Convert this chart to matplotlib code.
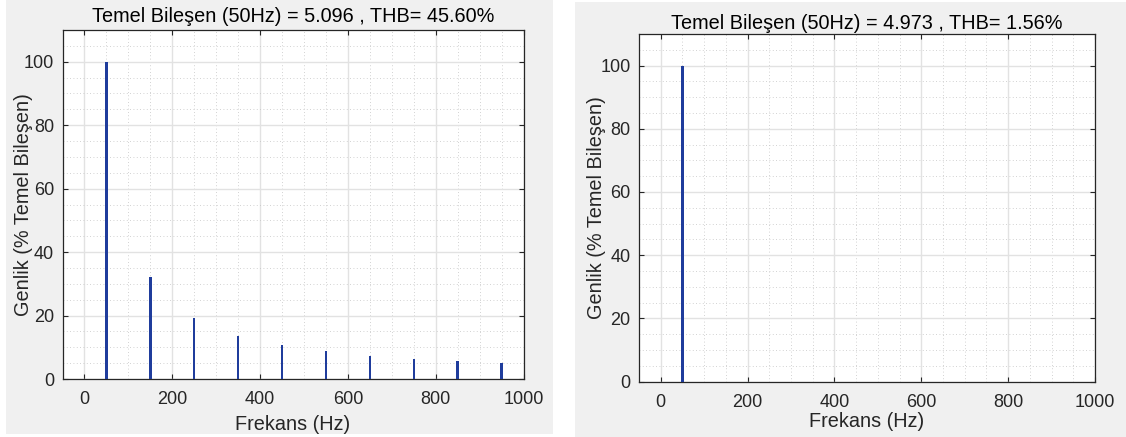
import matplotlib
matplotlib.use("Agg")
import matplotlib.pyplot as plt
from matplotlib.patches import Rectangle
from matplotlib.ticker import MultipleLocator

plt.rcParams['font.family'] = ['Liberation Sans', 'DejaVu Sans']

# Veriler (harmonik spektrumu, % temel bileşen)
freq_left = [50, 150, 250, 350, 450, 550, 650, 750, 850, 950]
amp_left = [100, 32.0, 19.3, 13.7, 10.6, 8.7, 7.4, 6.3, 5.6, 4.9]
freq_right = [50]
amp_right = [100]

title_left = 'Temel Bileşen (50Hz) = 5.096 , THB= 45.60%'
title_right = 'Temel Bileşen (50Hz) = 4.973 , THB= 1.56%'
xticks = [0, 200, 400, 600, 800, 1000]
yticks = [0, 20, 40, 60, 80, 100]

W, H = 1126, 437
fig = plt.figure(figsize=(W / 100, H / 100), dpi=100, facecolor='white')

# gri panel arka planları (eksenlerin arkasında)
fig.patches.append(Rectangle((6 / W, (H - 434) / H), 547 / W, 434 / H,
                             transform=fig.transFigure, facecolor='#f0f0f0',
                             edgecolor='none', zorder=-5))
fig.patches.append(Rectangle((575 / W, 0), 551 / W, (H - 2) / H,
                             transform=fig.transFigure, facecolor='#f0f0f0',
                             edgecolor='none', zorder=-5))

bar_color = '#1f3c9c'
txt_color = '#262626'


def draw_panel(rect, freqs, amps, title, bar_w, title_pad, ylab_x, xlab_y):
    ax = fig.add_axes(rect)
    ax.set_facecolor('white')
    ax.bar(freqs, amps, width=bar_w, color=bar_color, edgecolor='none', zorder=3)
    ax.set_xlim(-50, 1000)
    ax.set_ylim(0, 110)
    ax.set_xticks(xticks)
    ax.set_yticks(yticks)
    ax.xaxis.set_minor_locator(MultipleLocator(50))
    ax.yaxis.set_minor_locator(MultipleLocator(5))
    ax.grid(True, which='major', color='#e2e2e2', linewidth=1.0, zorder=0)
    ax.grid(True, which='minor', color='#c4c4c4', linewidth=0.6,
            linestyle=(0, (1, 3)), zorder=0)
    ax.set_axisbelow(True)
    ax.tick_params(which='major', direction='in', length=3.5, width=0.8,
                   top=True, right=True, colors=txt_color, labelsize=13)
    ax.tick_params(axis='x', pad=9)
    ax.tick_params(axis='y', pad=6)
    ax.tick_params(which='minor', length=0)
    for s in ax.spines.values():
        s.set_color(txt_color)
        s.set_linewidth(0.9)
    ax.set_title(title, fontsize=14.3, color='black', pad=title_pad)
    ax.set_xlabel('Frekans (Hz)', fontsize=14.3, color=txt_color, va='top')
    ax.set_ylabel('Genlik (% Temel Bileşen)', fontsize=14.3, color=txt_color)
    ax.xaxis.set_label_coords(0.5, xlab_y)
    ax.yaxis.set_label_coords(ylab_x, 0.5)
    return ax


draw_panel([62.5 / W, (H - 379) / H, 461 / W, 349 / H],
           freq_left, amp_left, title_left, 5.5, 5.5, -0.063, -0.103)
draw_panel([639 / W, (H - 381.5) / H, 456 / W, 347.5 / H],
           freq_right, amp_right, title_right, 6.5, 3.5, -0.072, -0.087)

fig.savefig('out.png', dpi=100, facecolor='white')
